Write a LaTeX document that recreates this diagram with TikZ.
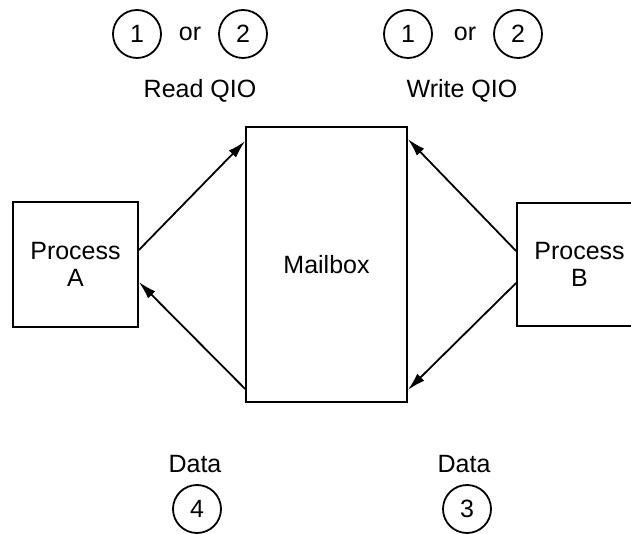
\documentclass[tikz,border=0pt]{standalone}
\usepackage{fontspec}
\setmainfont{Liberation Sans}
\usetikzlibrary{arrows.meta,calc}
\begin{document}
\begin{tikzpicture}[x=1pt,y=-1pt,
  every node/.style={font=\fontsize{25}{27}\selectfont},
  box/.style={draw,line width=1.8pt,align=center,inner sep=0pt},
  num/.style={draw,circle,line width=1.8pt,minimum size=48pt,inner sep=0pt},
  lbl/.style={inner sep=0pt},
  conn/.style={line width=1.8pt,-{Latex[length=18pt,width=10pt]}}]
\clip (0,0) rectangle (631,534);
\node[box,minimum width=161pt,minimum height=275pt] (M) at (326.5,264.5) {Mailbox};
\node[box,minimum width=125pt,minimum height=125pt] (A) at (75.5,264.5) {Process\\A};
\node[box,minimum width=125pt,minimum height=123pt] (B) at (579.5,264.5) {Process\\B};
% top labels
\node[num] (r1) at (137,34) {1};
\node[lbl] (ror) at (190,34) {or};
\node[num] (r2) at (243,34) {2};
\node[lbl] (rq) at (200,91) {Read QIO};
\node[num] (w1) at (408,34) {1};
\node[lbl] (wor) at (465,34) {or};
\node[num] (w2) at (518,34) {2};
\node[lbl] (wq) at (462,91) {Write QIO};
% bottom labels
\node[lbl] (d4) at (195,464) {Data};
\node[num] (c4) at (197,509) {4};
\node[lbl] (d3) at (464,464) {Data};
\node[num] (c3) at (467,509) {3};
% connectors
\draw[conn] ([yshift=14.5pt]A.east) -- ([yshift=-15pt]M.north west);
\draw[conn] ([yshift=14pt]M.south west) -- ([yshift=-17.5pt]A.east);
\draw[conn] ([yshift=13.5pt]B.west) -- ([yshift=-13pt]M.north east);
\draw[conn] ([yshift=-18.5pt]B.west) -- ([yshift=13pt]M.south east);
\end{tikzpicture}
\end{document}
